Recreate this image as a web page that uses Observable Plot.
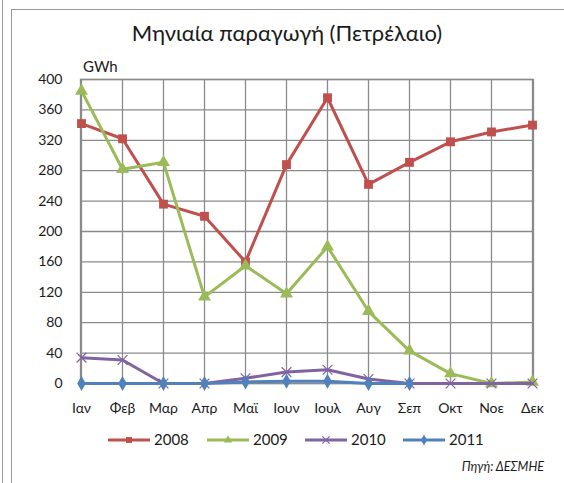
<!DOCTYPE html>
<html>
<head>
<meta charset="utf-8">
<script src="https://cdn.jsdelivr.net/npm/d3@7"></script>
<script src="https://cdn.jsdelivr.net/npm/@observablehq/plot@0.6"></script>
<style>
  html, body { margin: 0; padding: 0; background: #fff; }
  #wrap { position: relative; width: 564px; height: 483px; overflow: hidden; font-family: Lato, "Open Sans", sans-serif; color: #1a1a1a; }
  .abs { position: absolute; }
  #title { left: 0; width: 574px; top: 19px; text-align: center; font-size: 22px; white-space: nowrap; }
  #unit { left: 83px; top: 57px; font-size: 15px; }
  #chart { left: 0; top: 50px; }
  #legend { left: 0; top: 430px; width: 564px; height: 20px; }
  #source { right: 20px; top: 459px; font-size: 12.5px; font-style: italic; }
</style>
</head>
<body>
<div id="wrap">
  <div class="abs" style="left:2px;top:0;width:1px;height:483px;background:#9a9a9a"></div>
  <div class="abs" style="left:11px;top:9px;width:1px;height:474px;background:#9a9a9a"></div>
  <div class="abs" style="left:11px;top:9px;width:553px;height:1px;background:#9a9a9a"></div>
  <div class="abs" id="title">Μηνιαία παραγωγή (Πετρέλαιο)</div>
  <div class="abs" id="unit">GWh</div>
  <div class="abs" id="chart"></div>
  <div class="abs" id="legend"></div>
  <div class="abs" id="source">Πηγή: ΔΕΣΜΗΕ</div>
</div>
<script>
const months = ["Ιαν","Φεβ","Μαρ","Απρ","Μαϊ","Ιουν","Ιουλ","Αυγ","Σεπ","Οκτ","Νοε","Δεκ"];
const years = ["2008","2009","2010","2011"];
const v2008 = [342,322,236,220,160,288,376,262,291,318,331,340];
const v2009 = [385,282,291,114,155,118,180,95,43,13,0,2];
const v2010 = [34,31,0,0,7,15,18,6,0,0,0,0];
const v2011 = [0,0,0,0,2,3,3,0,0];
const yTicks = [0,40,80,120,160,200,240,280,320,360,400];
const colors = ["#c0504d","#9bbb59","#8064a2","#4f81bd"];

const series = [v2008, v2009, v2010, v2011];
const rows = series.map((vals, i) => vals.map((v, j) => ({month: months[j], value: v, year: years[i]})));

const styles = [
  {symbol: "square", r: 5, fill: colors[0], stroke: "none"},
  {symbol: "triangle", r: 4.8, fill: colors[1], stroke: "none"},
  {symbol: "times", r: 4.5, fill: "none", stroke: colors[2]},
  {symbol: "diamond", r: 4.5, fill: colors[3], stroke: "none"}
];

const marks = [
  Plot.gridX(months, {stroke: "#8a8a8a", strokeOpacity: 1, strokeWidth: 1.3}),
  Plot.gridY(yTicks, {stroke: "#8a8a8a", strokeOpacity: 1, strokeWidth: 1.3}),
  Plot.frame({stroke: "#8a8a8a", strokeWidth: 1.3}),
  Plot.axisY(yTicks, {tickSize: 0, tickPadding: 18, fontSize: 14, fill: "#1a1a1a", label: null}),
  Plot.axisX(months, {tickSize: 0, tickPadding: 20, fontSize: 14, fill: "#1a1a1a", label: null})
];
rows.forEach((data, i) => {
  marks.push(Plot.line(data, {x: "month", y: "value", stroke: colors[i], strokeWidth: 3}));
  const s = styles[i];
  marks.push(Plot.dot(data, {x: "month", y: "value", symbol: () => s.symbol, r: s.r, fill: s.fill, stroke: s.stroke, strokeWidth: i === 2 ? 1.2 : 1}));
});

const chart = Plot.plot({
  width: 564,
  height: 375,
  marginTop: 29,
  marginBottom: 42,
  marginLeft: 80,
  marginRight: 31,
  style: {fontFamily: "Lato, 'Open Sans', sans-serif", background: "transparent"},
  x: {type: "point", domain: months, padding: 0, axis: null, label: null},
  y: {domain: [0, 400], axis: null, label: null},
  symbol: {type: "identity"},
  marks
});
document.getElementById("chart").appendChild(chart);

// legend
const legendItems = [
  {x: 108, label: years[0]},
  {x: 207, label: years[1]},
  {x: 305, label: years[2]},
  {x: 403, label: years[3]}
];
const lg = d3.select("#legend").append("svg").attr("width", 564).attr("height", 22);
legendItems.forEach((it, i) => {
  const g = lg.append("g").attr("transform", `translate(${it.x},10)`);
  g.append("line").attr("x1", 0).attr("x2", 42).attr("y1", 0).attr("y2", 0).attr("stroke", colors[i]).attr("stroke-width", 3);
  const sym = {square: d3.symbolSquare, triangle: d3.symbolTriangle, times: d3.symbolTimes, diamond: d3.symbolDiamond}[styles[i].symbol];
  g.append("path").attr("transform", "translate(21,0)")
    .attr("d", d3.symbol(sym, Math.PI * 16 * (i === 1 ? 0.6 : 0.7))())
    .attr("fill", styles[i].fill).attr("stroke", styles[i].stroke).attr("stroke-width", 1.2);
  g.append("text").attr("x", 46).attr("y", 5).attr("font-size", 15).attr("fill", "#1a1a1a")
    .attr("font-family", "Lato, 'Open Sans', sans-serif").text(it.label);
});
</script>
</body>
</html>
